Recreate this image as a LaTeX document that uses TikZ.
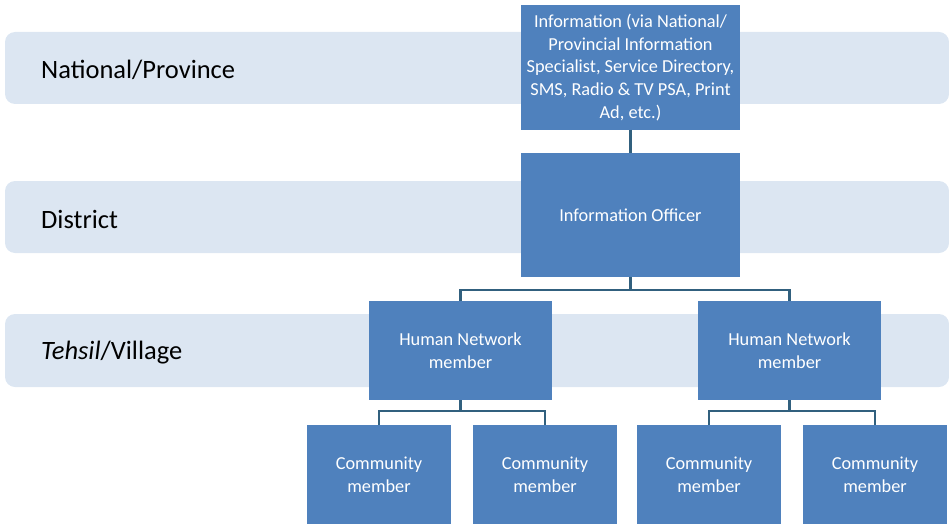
\documentclass[tikz,border=0pt]{standalone}
\usepackage{fontspec}
\setmainfont{Carlito}
\usepackage{tikz}
\pgfdeclarelayer{background}
\pgfsetlayers{background,main}
\definecolor{bandfill}{HTML}{DCE6F2}
\definecolor{boxfill}{HTML}{4F81BD}
\definecolor{linkcol}{HTML}{31607E}
\tikzset{
  band/.style={fill=bandfill, rounded corners=10pt},
  bandlabel/.style={anchor=west, inner sep=0pt, font=\fontsize{26.5}{30}\selectfont},
  unit/.style={fill=boxfill, text=white, align=center, inner sep=0pt,
    font=\fontsize{18.3}{22.6}\selectfont},
  bigunit/.style={unit, minimum width=219pt, minimum height=124pt},
  hnunit/.style={unit, minimum width=183pt, minimum height=99pt},
  cmunit/.style={unit, minimum width=144pt, minimum height=99pt},
  link/.style={draw=linkcol, line width=2.2pt},
}

\begin{document}
\begin{tikzpicture}[x=1pt,y=-1pt]
\useasboundingbox (0,0) rectangle (949,524);

\begin{pgfonlayer}{background}
\fill[band] (5,32) rectangle (949,104);
\fill[band] (5,181) rectangle (949,253);
\fill[band] (5,314) rectangle (949,387);
\end{pgfonlayer}

\node[bandlabel] (natl) at (41,70) {National/Province};
\node[bandlabel] (dist) at (41,219) {District};
\node[bandlabel] (vill) at (41,353) {\textit{Tehsil}/Village};

\node[bigunit] (info) at (630.5,67.5) {Information (via National/\\Provincial Information\\Specialist, Service Directory,\\SMS, Radio \& TV PSA, Print\\Ad, etc.)};
\node[bigunit] (officer) at (630.5,215) {Information Officer};

\node[hnunit] (hnl) at (460.5,350.5) {Human Network\\member};
\node[hnunit] (hnr) at (789.5,350.5) {Human Network\\member};

\node[cmunit] (cm1) at (379,474.5) {Community\\member};
\node[cmunit] (cm2) at (545,474.5) {Community\\member};
\node[cmunit] (cm3) at (709,474.5) {Community\\member};
\node[cmunit] (cm4) at (875,474.5) {Community\\member};

\draw[link] (info.south) -- (officer.north);
\draw[link] (officer.south) -- ++(0,13) -| (hnl.north);
\draw[link] (officer.south) -- ++(0,13) -| (hnr.north);
\draw[link] (hnl.south) -- ++(0,11) -| (cm1.north);
\draw[link] (hnl.south) -- ++(0,11) -| (cm2.north);
\draw[link] (hnr.south) -- ++(0,11) -| (cm3.north);
\draw[link] (hnr.south) -- ++(0,11) -| (cm4.north);

\end{tikzpicture}
\end{document}
